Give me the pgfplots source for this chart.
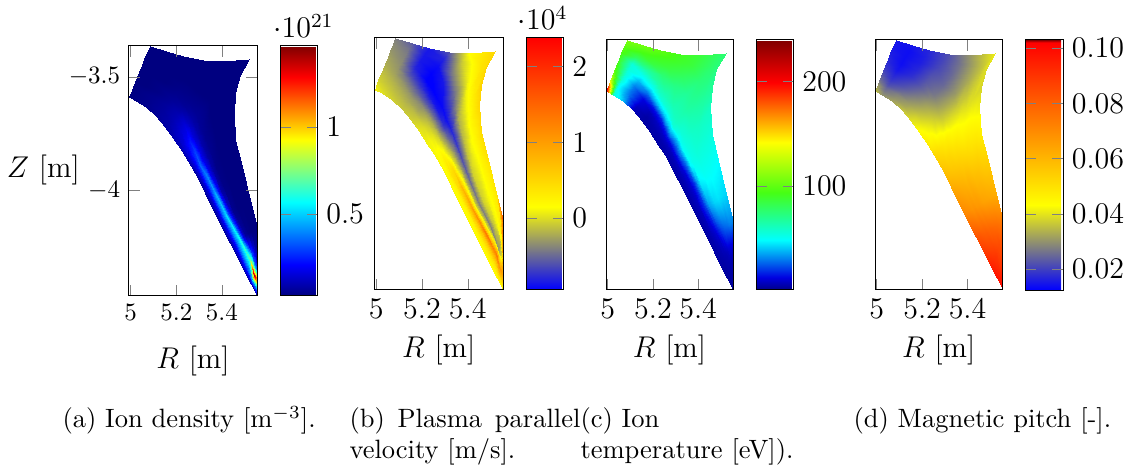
\documentclass[border=0pt]{standalone}
\usepackage{pgfplots}
\usepackage{pgfplotstable}
\pgfplotsset{compat=1.18}
\pgfplotstableread{
R Z n v T p
4.993 -3.589 0.03e21 0.10e4 215 .036
4.999 -3.575 0.03e21 0.05e4 200 .033
5.004 -3.559 0.03e21 0.00e4 165 .030
5.010 -3.544 0.03e21 -0.05e4 135 .027
5.019 -3.522 0.03e21 -0.10e4 115 .024
5.029 -3.499 0.03e21 -0.15e4 100 .021
5.038 -3.477 0.03e21 -0.20e4 95 .019
5.050 -3.449 0.03e21 -0.25e4 90 .017
5.060 -3.419 0.03e21 -0.30e4 95 .016
5.072 -3.391 0.03e21 -0.35e4 100 .015
5.084 -3.364 0.03e21 -0.40e4 108 .015
5.025 -3.604 0.04e21 0.02e4 55 .030
5.034 -3.589 0.04e21 -0.03e4 55 .027
5.043 -3.575 0.04e21 -0.08e4 50 .025
5.051 -3.560 0.04e21 -0.12e4 50 .022
5.065 -3.538 0.03e21 -0.18e4 55 .019
5.078 -3.516 0.03e21 -0.25e4 55 .017
5.091 -3.494 0.03e21 -0.30e4 55 .015
5.107 -3.468 0.03e21 -0.35e4 55 .014
5.124 -3.440 0.03e21 -0.40e4 80 .014
5.141 -3.412 0.03e21 -0.45e4 95 .014
5.157 -3.386 0.03e21 -0.55e4 105 .015
5.069 -3.633 0.05e21 -0.05e4 38 .032
5.079 -3.619 0.05e21 -0.10e4 32 .030
5.091 -3.603 0.05e21 -0.15e4 30 .028
5.101 -3.588 0.05e21 -0.20e4 28 .025
5.118 -3.566 0.04e21 -0.30e4 30 .022
5.134 -3.544 0.04e21 -0.45e4 38 .020
5.150 -3.522 0.03e21 -0.65e4 50 .018
5.171 -3.494 0.03e21 -0.80e4 65 .017
5.190 -3.465 0.03e21 -0.85e4 85 .016
5.210 -3.437 0.03e21 -0.85e4 92 .016
5.231 -3.409 0.03e21 -0.85e4 100 .017
5.113 -3.673 0.06e21 -0.10e4 6 .036
5.126 -3.657 0.07e21 -0.15e4 7 .033
5.141 -3.639 0.07e21 -0.22e4 10 .031
5.154 -3.623 0.07e21 -0.30e4 12 .029
5.175 -3.598 0.06e21 -0.50e4 28 .026
5.196 -3.573 0.05e21 -0.75e4 50 .024
5.216 -3.548 0.04e21 -0.95e4 65 .023
5.241 -3.518 0.03e21 -0.95e4 75 .022
5.268 -3.487 0.03e21 -0.90e4 85 .021
5.293 -3.456 0.03e21 -0.80e4 90 .021
5.319 -3.425 0.03e21 -0.60e4 92 .022
5.150 -3.720 0.08e21 -0.05e4 4 .040
5.168 -3.701 0.09e21 -0.12e4 4 .038
5.184 -3.680 0.10e21 -0.25e4 6 .035
5.201 -3.661 0.10e21 -0.35e4 14 .033
5.219 -3.642 0.08e21 -0.60e4 40 .031
5.235 -3.623 0.06e21 -0.85e4 56 .029
5.253 -3.604 0.05e21 -0.95e4 62 .027
5.291 -3.560 0.03e21 -0.85e4 72 .025
5.329 -3.516 0.03e21 -0.45e4 80 .025
5.369 -3.474 0.03e21 -0.10e4 86 .027
5.407 -3.430 0.03e21 0.15e4 86 .030
5.187 -3.768 0.10e21 0.05e4 4 .044
5.203 -3.751 0.13e21 0.00e4 5 .042
5.221 -3.733 0.15e21 -0.10e4 8 .040
5.237 -3.716 0.16e21 -0.25e4 16 .038
5.253 -3.698 0.12e21 -0.55e4 42 .036
5.271 -3.682 0.08e21 -0.85e4 56 .034
5.287 -3.664 0.06e21 -0.92e4 62 .033
5.346 -3.603 0.03e21 -0.42e4 68 .031
5.403 -3.543 0.03e21 0.10e4 74 .033
5.462 -3.482 0.03e21 0.40e4 76 .036
5.521 -3.421 0.03e21 0.50e4 75 .041
5.224 -3.827 0.10e21 0.10e4 4 .048
5.235 -3.811 0.15e21 0.10e4 5 .046
5.249 -3.796 0.20e21 0.05e4 8 .045
5.260 -3.780 0.24e21 -0.10e4 14 .043
5.275 -3.761 0.15e21 -0.40e4 40 .042
5.290 -3.740 0.09e21 -0.75e4 56 .040
5.304 -3.721 0.06e21 -0.88e4 60 .039
5.349 -3.664 0.03e21 -0.35e4 66 .037
5.393 -3.606 0.03e21 0.10e4 70 .036
5.437 -3.548 0.03e21 0.35e4 72 .037
5.481 -3.490 0.03e21 0.50e4 72 .039
5.253 -3.871 0.10e21 0.12e4 4 .052
5.262 -3.858 0.16e21 0.15e4 5 .051
5.272 -3.843 0.25e21 0.15e4 7 .050
5.281 -3.830 0.30e21 0.05e4 12 .049
5.296 -3.808 0.17e21 -0.25e4 32 .047
5.310 -3.787 0.09e21 -0.55e4 50 .046
5.325 -3.765 0.05e21 -0.80e4 56 .044
5.359 -3.717 0.03e21 -0.20e4 62 .042
5.393 -3.669 0.03e21 0.10e4 65 .040
5.425 -3.619 0.03e21 0.30e4 67 .039
5.459 -3.570 0.03e21 0.55e4 68 .038
5.282 -3.922 0.08e21 0.12e4 4 .056
5.290 -3.911 0.16e21 0.20e4 5 .055
5.299 -3.897 0.28e21 0.30e4 7 .054
5.306 -3.886 0.35e21 0.25e4 12 .053
5.319 -3.865 0.18e21 -0.05e4 30 .052
5.334 -3.843 0.08e21 -0.40e4 50 .050
5.347 -3.823 0.05e21 -0.72e4 54 .049
5.374 -3.782 0.03e21 -0.15e4 58 .046
5.400 -3.740 0.03e21 0.12e4 60 .045
5.425 -3.699 0.03e21 0.30e4 60 .043
5.451 -3.658 0.03e21 0.50e4 60 .041
5.312 -3.981 0.07e21 0.12e4 4 .060
5.321 -3.969 0.15e21 0.25e4 5 .059
5.329 -3.956 0.30e21 0.40e4 7 .058
5.338 -3.944 0.40e21 0.50e4 10 .057
5.350 -3.928 0.18e21 0.05e4 25 .056
5.362 -3.911 0.08e21 -0.30e4 48 .055
5.374 -3.894 0.04e21 -0.60e4 52 .054
5.396 -3.865 0.03e21 -0.10e4 55 .052
5.416 -3.834 0.03e21 0.10e4 55 .050
5.438 -3.805 0.03e21 0.25e4 55 .049
5.459 -3.776 0.03e21 0.45e4 54 .047
5.341 -4.040 0.07e21 0.12e4 4 .065
5.351 -4.029 0.16e21 0.25e4 5 .064
5.360 -4.021 0.32e21 0.45e4 7 .063
5.371 -4.010 0.45e21 0.75e4 10 .062
5.382 -3.999 0.20e21 0.20e4 18 .061
5.393 -3.988 0.08e21 -0.20e4 35 .060
5.404 -3.977 0.04e21 -0.50e4 47 .060
5.425 -3.956 0.03e21 -0.05e4 50 .058
5.447 -3.935 0.03e21 0.10e4 50 .057
5.468 -3.913 0.03e21 0.25e4 49 .055
5.488 -3.893 0.03e21 0.40e4 48 .054
5.385 -4.128 0.07e21 0.12e4 4 .071
5.397 -4.120 0.18e21 0.25e4 5 .070
5.407 -4.113 0.36e21 0.50e4 7 .069
5.419 -4.106 0.52e21 1.00e4 12 .068
5.429 -4.100 0.28e21 0.40e4 20 .068
5.438 -4.094 0.12e21 -0.10e4 28 .067
5.449 -4.088 0.05e21 -0.40e4 35 .067
5.468 -4.076 0.03e21 -0.05e4 42 .065
5.487 -4.065 0.03e21 0.10e4 44 .064
5.506 -4.051 0.03e21 0.20e4 43 .063
5.525 -4.040 0.03e21 0.35e4 42 .062
5.437 -4.230 0.08e21 0.12e4 4 .083
5.449 -4.223 0.20e21 0.30e4 5 .082
5.462 -4.217 0.40e21 0.60e4 7 .081
5.474 -4.210 0.58e21 1.30e4 10 .080
5.482 -4.204 0.34e21 0.50e4 14 .080
5.493 -4.199 0.15e21 -0.05e4 18 .079
5.501 -4.194 0.07e21 -0.40e4 22 .079
5.515 -4.186 0.04e21 -0.10e4 26 .078
5.528 -4.179 0.03e21 0.10e4 28 .077
5.541 -4.172 0.03e21 0.30e4 30 .076
5.554 -4.164 0.03e21 1.70e4 30 .075
5.503 -4.362 0.10e21 0.15e4 4 .095
5.510 -4.343 0.30e21 0.35e4 4 .093
5.518 -4.326 0.50e21 0.70e4 5 .091
5.525 -4.306 0.72e21 1.30e4 6 .089
5.528 -4.298 0.60e21 0.80e4 7 .088
5.531 -4.287 0.45e21 0.20e4 8 .087
5.534 -4.279 0.30e21 -0.30e4 10 .086
5.540 -4.262 0.15e21 -0.20e4 12 .085
5.544 -4.248 0.08e21 0.20e4 14 .083
5.550 -4.232 0.05e21 1.00e4 16 .082
5.554 -4.216 0.04e21 1.90e4 20 .080
5.528 -4.411 0.10e21 0.20e4 3 .098
5.532 -4.397 0.40e21 0.40e4 3 .096
5.537 -4.384 0.85e21 0.80e4 4 .094
5.541 -4.371 1.45e21 1.10e4 4 .092
5.543 -4.353 0.90e21 0.80e4 5 .090
5.546 -4.336 0.45e21 0.40e4 5 .089
5.547 -4.318 0.30e21 0.00e4 6 .087
5.549 -4.302 0.18e21 0.30e4 7 .086
5.551 -4.284 0.12e21 0.80e4 8 .084
5.553 -4.268 0.08e21 1.20e4 10 .083
5.554 -4.252 0.06e21 1.70e4 12 .081
5.554 -4.463 0.08e21 0.20e4 3 .100
5.554 -4.437 0.35e21 0.50e4 3 .098
5.554 -4.411 0.80e21 0.80e4 3 .096
5.554 -4.384 1.00e21 0.90e4 4 .093
5.554 -4.367 0.70e21 1.00e4 4 .091
5.554 -4.350 0.40e21 1.10e4 4 .089
5.554 -4.333 0.25e21 1.20e4 5 .087
5.554 -4.321 0.15e21 1.40e4 5 .086
5.554 -4.311 0.10e21 1.50e4 6 .085
5.554 -4.299 0.07e21 1.60e4 7 .084
5.554 -4.289 0.05e21 1.70e4 9 .083
}\mesh
\pgfplotsset{
  common/.style={
    scale only axis, anchor=south west, axis on top,
    xmin=4.9926, xmax=5.554, ymin=-4.463, ymax=-3.364,
    xtick={5,5.2,5.4}, tick style={gray}, xlabel={$R$ [m]},
    xlabel style={font=\large},
    colorbar,
    colorbar shift/.style={xshift=9pt},
  },
  field/.style={surf, shader=interp, mesh/rows=16, mesh/cols=11, point meta=explicit},
  colormap={bmap}{rgb255(0pt)=(0,0,255); rgb255(33pt)=(255,255,0); rgb255(100pt)=(255,0,0)},
  colormap={dmap}{rgb255(0pt)=(0,0,255); rgb255(34pt)=(255,255,0); rgb255(99pt)=(255,0,0); rgb255(100pt)=(128,0,0)},
  colormap={tmap}{rgb255(0pt)=(0,0,135); rgb255(5pt)=(0,0,225); rgb255(20pt)=(0,255,255); rgb255(39pt)=(70,255,20); rgb255(59pt)=(255,255,0); rgb255(83pt)=(255,0,0); rgb255(100pt)=(128,0,0)},
}
\begin{document}
\begin{tikzpicture}
\path[use as bounding box] (0,0) rectangle (454.8pt,189.6pt);
\begin{axis}[common, at={(51.6pt,71.2pt)}, width=51.2pt, height=100pt,
  ytick={-4,-3.5}, xlabel style={yshift=-3pt},
  ylabel={$Z$ [m]}, ylabel style={font=\large,at={(axis description cs:-0.67,0.504)},rotate=-90,anchor=center},
  colormap/jet, point meta min=0.03e21, point meta max=1.465e21,
  colorbar style={width=15pt, ytick={0.5e21,1e21}, tick style={gray},
    yticklabel style={font=\large},
    every y tick scale label/.append style={xshift=9.6pt}}]
\addplot[field] table[x=R,y=Z,meta=n] {\mesh};
\end{axis}
\begin{axis}[common, at={(149.8pt,73.6pt)}, width=51.4pt, height=100.8pt,
  ytick=\empty, xticklabel style={font=\large},
  colormap name=bmap, point meta min=-0.95e4, point meta max=2.38e4,
  colorbar style={width=15pt, ytick={0,1e4,2e4}, tick style={gray},
    yticklabel style={font=\large},
    every y tick scale label/.append style={xshift=4.8pt}}]
\addplot[field] table[x=R,y=Z,meta=v] {\mesh};
\end{axis}
\begin{axis}[common, at={(242.4pt,73.6pt)}, width=50.8pt, height=100pt,
  ytick=\empty, xticklabel style={font=\large},
  colormap name=tmap, point meta min=0, point meta max=240,
  colorbar style={width=15pt, ytick={100,200}, tick style={gray},
    yticklabel style={font=\large}}]
\addplot[field] table[x=R,y=Z,meta=T] {\mesh};
\end{axis}
\begin{axis}[common, at={(350pt,73.6pt)}, width=51pt, height=100pt,
  ytick=\empty, xticklabel style={font=\large},
  colormap name=dmap, point meta min=0.0124, point meta max=0.103,
  colorbar style={width=15pt, ytick={0.02,0.04,0.06,0.08,0.1}, tick style={gray},
    scaled y ticks=false,
    yticklabel style={font=\large,/pgf/number format/fixed,/pgf/number format/fixed zerofill,/pgf/number format/precision=2}}]
\addplot[field] table[x=R,y=Z,meta=p] {\mesh};
\end{axis}
\node[anchor=base west,inner sep=0,scale=1.06] at (24.8pt,18.4pt) {(a) Ion density [m$^{-3}$].};
\node[anchor=base west,inner sep=0,scale=1.06] at (139.6pt,18.4pt) {(b)\hspace{1.5pt} Plasma\hspace{1.5pt} parallel};
\node[anchor=base west,inner sep=0,scale=1.06] at (139.6pt,6pt) {velocity [m/s].};
\node[anchor=base west,inner sep=0,scale=1.06] at (232pt,18.4pt) {(c) Ion};
\node[anchor=base west,inner sep=0,scale=1.06] at (232pt,6pt) {temperature [eV]).};
\node[anchor=base west,inner sep=0,scale=1.06] at (341.2pt,18.4pt) {(d) Magnetic pitch [-].};
\end{tikzpicture}
\end{document}
